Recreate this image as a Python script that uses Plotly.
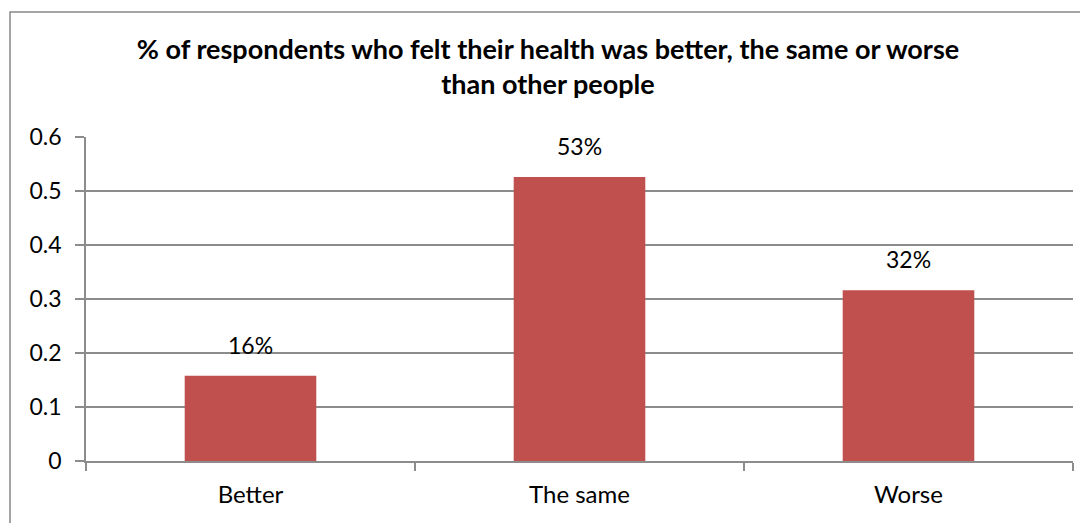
import plotly.graph_objects as go

categories = ["Better", "The same", "Worse"]
values = [0.158, 0.526, 0.316]
labels = ["16%", "53%", "32%"]
y_ticks = [0, 0.1, 0.2, 0.3, 0.4, 0.5, 0.6]
y_tick_text = ["0", "0.1", "0.2", "0.3", "0.4", "0.5", "0.6"]

# page body has an 8px margin, so figure is sized/positioned accordingly
W, H = 1080, 515
ML, MR, MT, MB = 78, 15, 129, 62
FONT = "Lato"
GRID = "#8c8c8c"

fig = go.Figure()
fig.add_trace(go.Bar(
    x=categories, y=values, width=0.4,
    marker=dict(color="#C0504D", line=dict(width=0)),
    hoverinfo="skip",
))

for c, v, t in zip(categories, values, labels):
    fig.add_annotation(x=c, y=v, text=t, showarrow=False, yanchor="bottom",
                       yshift=15, font=dict(family=FONT, size=23, color="#000"))

pw = W - ML - MR
ph = H - MT - MB
fig.add_shape(type="rect", xref="paper", yref="paper",
              x0=(2 - ML) / pw, x1=(W + 20 - ML) / pw,
              y0=(H - MB - (H + 20)) / ph, y1=(H - MB - 4) / ph,
              line=dict(color="#888888", width=1.5), layer="below")

fig.update_layout(
    template="none",
    width=W, height=H,
    margin=dict(l=ML, r=MR, t=MT, b=MB, autoexpand=False),
    paper_bgcolor="white", plot_bgcolor="white",
    showlegend=False,
    title=dict(
        text="<b>% of respondents who felt their health was better, the same or worse<br>than other people</b>",
        x=0.5, xanchor="center", xref="container",
        y=1 - 51 / H, yanchor="top", yref="container",
        font=dict(family=FONT, size=27, color="#000"),
    ),
    font=dict(family=FONT, size=22, color="#000"),
)
fig.update_xaxes(
    type="category", tickson="boundaries", ticks="outside", ticklen=8,
    tickcolor=GRID, tickwidth=1.5, showline=True, linecolor=GRID, linewidth=1.5,
    showgrid=False, automargin=False, ticklabelstandoff=11,
    tickfont=dict(family=FONT, size=24, color="#000"),
)
fig.update_yaxes(
    range=[0, 0.6], tickvals=y_ticks, ticktext=y_tick_text,
    ticks="outside", ticklen=9, tickcolor=GRID, tickwidth=1.5,
    showline=True, linecolor=GRID, linewidth=1.5, automargin=False,
    showgrid=True, gridcolor=GRID, gridwidth=1.5, zeroline=False,
    ticklabelstandoff=9,
    tickfont=dict(family=FONT, size=23, color="#000"),
)

fig.write_html("out.html")
